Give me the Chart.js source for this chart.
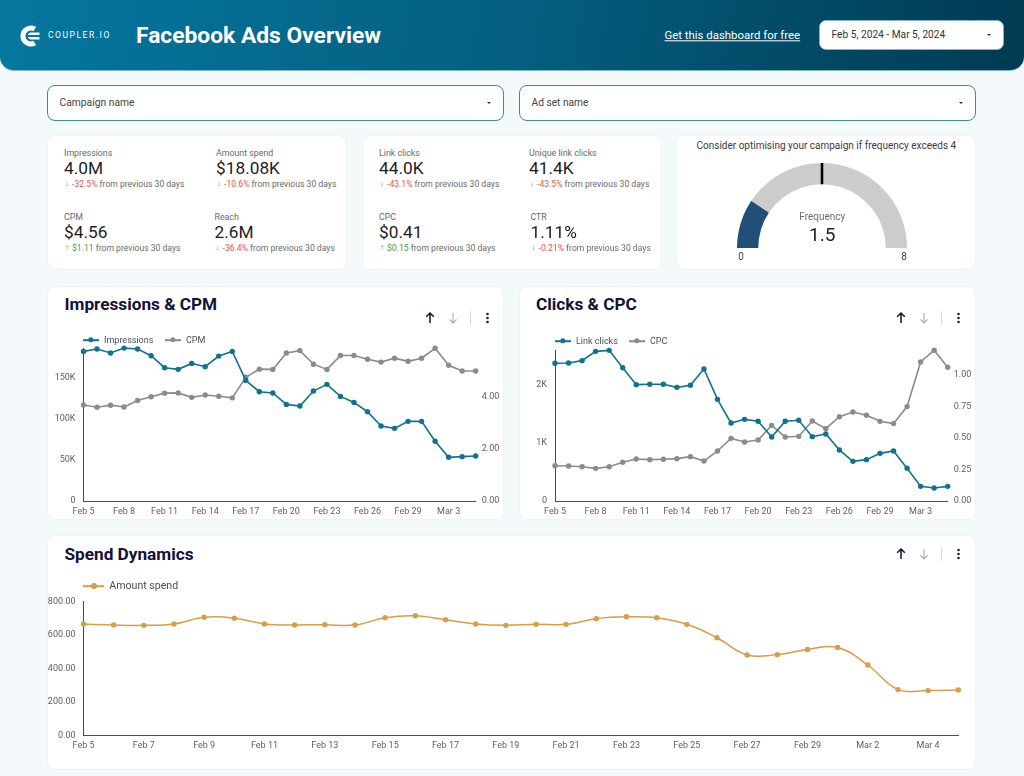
<!DOCTYPE html>
<html>
<head>
<meta charset="utf-8">
<title>Facebook Ads Overview</title>
<script src="https://cdn.jsdelivr.net/npm/chart.js@4"></script>
<style>
  html, body { margin: 0; padding: 0; }
  body { width: 1024px; height: 776px; position: relative; overflow: hidden; background: #f4f9fb; font-family: Roboto, sans-serif; color: #222; }
  .t { position: absolute; transform: translateY(-50%); white-space: nowrap; line-height: 1; }
  .header { position: absolute; left: 0; top: 0; width: 1024px; height: 70.5px; border-radius: 0 0 14px 14px; background: linear-gradient(100deg, #05779f 0%, #045f80 50%, #003a52 100%); border-bottom: 1px solid #7fb6c9; box-sizing: border-box; }
  .caja { position: absolute; background: #fff; box-sizing: border-box; }
  .filtro { border: 1px solid #3f8aa3; border-radius: 8px; height: 36px; top: 84.5px; }
  .tarjeta { border: 1px solid #eef3f6; border-radius: 8px; }
  .flechita { position: absolute; width: 0; height: 0; border-left: 2px solid transparent; border-right: 2px solid transparent; border-top: 2px solid #333; }
  .titulo { font-size: 17.2px; font-weight: 700; color: #12123a; }
  canvas { position: absolute; }
  .ley-linea { position: absolute; height: 1.6px; transform: translateY(-50%); }
  .ley-punto { position: absolute; border-radius: 50%; transform: translate(-50%, -50%); }
  svg { position: absolute; overflow: visible; }
</style>
</head>
<body>
  <div class="header"></div>
  <svg style="left:19px;top:25px" width="22" height="22" viewBox="0 0 22 22">
    <path d="M15.8 4 A8 8 0 1 0 15.8 18" fill="none" stroke="#fff" stroke-width="5"/>
    <path d="M9 9.4 A3.2 3.2 0 0 1 11.5 7.4 H20.5 V9.9 H9 Z M9 12.6 A3.2 3.2 0 0 0 11.5 14.6 H20.5 V12.1 H9 Z" fill="#fff"/>
  </svg>
  <div class="t" style="left:48px;top:35px;font-size:8.5px;letter-spacing:1.55px;color:#fff">COUPLER.IO</div>
  <div class="t" style="left:136px;top:35.5px;font-size:22.8px;font-weight:700;color:#fff">Facebook Ads Overview</div>
  <div class="t" style="left:664.5px;top:35.5px;font-size:11.4px;color:#fff;text-decoration:underline">Get this dashboard for free</div>
  <div class="caja" style="left:819px;top:20px;width:184.5px;height:30px;border-radius:7px;border:1px solid #7fb6c9"></div>
  <div class="t" style="left:831.5px;top:35px;font-size:10.2px;color:#333">Feb 5, 2024 - Mar 5, 2024</div>
  <div class="flechita" style="left:987px;top:34px"></div>

  <div class="caja filtro" style="left:47px;width:457px"></div>
  <div class="t" style="left:59.5px;top:102.6px;font-size:10.3px;color:#444">Campaign name</div>
  <div class="flechita" style="left:487px;top:102px"></div>
  <div class="caja filtro" style="left:518.7px;width:457px"></div>
  <div class="t" style="left:531.5px;top:102.6px;font-size:10.2px;color:#444">Ad set name</div>
  <div class="flechita" style="left:959px;top:102px"></div>

  <div class="caja tarjeta" style="left:47px;top:134.5px;width:300px;height:135.5px"></div>
  <div class="caja tarjeta" style="left:361.5px;top:134.5px;width:300px;height:135.5px"></div>
  <div class="caja tarjeta" style="left:676px;top:134.5px;width:300px;height:135.5px"></div>

  <div class="t" style="left:696.5px;top:145.5px;font-size:10px;color:#3a3a44">Consider optimising your campaign if frequency exceeds 4</div>
  <canvas id="grafico-frecuencia" width="170" height="85" style="left:737.3px;top:163px"></canvas>
  <div class="t" style="left:822.3px;top:216.5px;font-size:10px;color:#6b6b80;transform:translate(-50%,-50%)">Frequency</div>
  <div class="t" style="left:822.3px;top:234px;font-size:19px;color:#222;transform:translate(-50%,-50%)">1.5</div>
  <div class="t" style="left:741px;top:257px;font-size:10px;color:#444;transform:translate(-50%,-50%)">0</div>
  <div class="t" style="left:904px;top:257px;font-size:10px;color:#444;transform:translate(-50%,-50%)">8</div>

  <div class="caja tarjeta" style="left:47px;top:285.5px;width:457px;height:234.5px"></div>
  <div class="caja tarjeta" style="left:519px;top:285.5px;width:457px;height:234.5px"></div>
  <div class="caja tarjeta" style="left:47px;top:535px;width:929px;height:235px"></div>
  <div class="t titulo" style="left:64.5px;top:305px">Impressions &amp; CPM</div>
  <div class="t titulo" style="left:536px;top:305px">Clicks &amp; CPC</div>
  <div class="t titulo" style="left:64.5px;top:555px">Spend Dynamics</div>

  <canvas id="grafico-impresiones" width="457" height="190" style="left:47px;top:330px"></canvas>
  <canvas id="grafico-clicks" width="457" height="190" style="left:519px;top:330px"></canvas>
  <canvas id="grafico-gasto" width="929" height="182" style="left:47px;top:588px"></canvas>

<script>
// Datos
const dias = ['Feb 5','Feb 6','Feb 7','Feb 8','Feb 9','Feb 10','Feb 11','Feb 12','Feb 13','Feb 14','Feb 15','Feb 16','Feb 17','Feb 18','Feb 19','Feb 20','Feb 21','Feb 22','Feb 23','Feb 24','Feb 25','Feb 26','Feb 27','Feb 28','Feb 29','Mar 1','Mar 2','Mar 3','Mar 4','Mar 5'];

const impresiones = [181500,184300,179500,185500,184300,176200,161700,159700,166900,162900,175800,181500,146300,132600,131000,117200,115200,133400,141500,126900,119600,108300,90900,88100,96600,96600,72400,53000,53800,54600];
const cpm = [3.68,3.59,3.67,3.60,3.85,3.99,4.13,4.14,3.97,4.06,4.01,3.95,4.74,5.05,5.04,5.67,5.76,5.24,5.04,5.57,5.57,5.43,5.32,5.47,5.35,5.47,5.85,5.20,4.98,4.98];
const clicks = [2367,2372,2413,2573,2590,2292,2000,2006,2006,1954,1989,2269,1748,1341,1404,1370,1100,1370,1387,1106,1152,877,682,711,819,860,562,252,223,252];
const cpc = [0.28,0.278,0.272,0.259,0.272,0.307,0.333,0.328,0.331,0.336,0.352,0.317,0.397,0.497,0.468,0.484,0.60,0.508,0.513,0.635,0.574,0.669,0.706,0.68,0.632,0.614,0.749,1.103,1.196,1.061];
const gasto = [665,659,657,665,705,700,665,659,661,659,702,714,690,665,657,663,663,697,708,702,663,583,480,482,513,525,420,273,267,271];

const ticksImpresiones = [0,50000,100000,150000];
const ticksCpm = [0,2,4];
const ticksClicks = [0,1000,2000];
const ticksCpc = [0,0.25,0.5,0.75,1];
const ticksGasto = [0,200,400,600,800];

const frecuencia = 1.5;
const frecuenciaMax = 8;
const frecuenciaLimite = 4;

const kpiNombres = ['Impressions','Amount spend','CPM','Reach','Link clicks','Unique link clicks','CPC','CTR'];
const kpiValores = ['4.0M','$18.08K','$4.56','2.6M','44.0K','41.4K','$0.41','1.11%'];
const kpiCambios = ['-32.5%','-10.6%','$1.11','-36.4%','-43.1%','-43.5%','$0.15','-0.21%'];
const kpiSube = [false,false,true,false,false,false,true,false];
const kpiX = [64,216,64,214.5,379,529,379,530.5];
const kpiY = [153,153,217,217,153,153,217,217];

const colorAzul = '#11728f';
const colorGris = '#8b8b8b';
const colorNaranja = '#d99c47';
const colorTick = '#5c5f66';
const colorEje = '#4a4a52';

Chart.defaults.font.family = 'Roboto';
Chart.defaults.font.size = 9;
Chart.defaults.color = colorTick;
Chart.defaults.animation = false;
Chart.defaults.responsive = false;
Chart.defaults.plugins.legend.display = false;
Chart.defaults.plugins.tooltip.enabled = false;

function agregarTexto(x, y, texto, tam, color) {
  const div = document.createElement('div');
  div.className = 't';
  div.style.left = x + 'px';
  div.style.top = y + 'px';
  div.style.fontSize = tam + 'px';
  div.style.color = color;
  div.textContent = texto;
  document.body.appendChild(div);
  return div;
}

// Tarjetas de KPI
kpiNombres.forEach((nombre, i) => {
  const x = kpiX[i], y = kpiY[i];
  agregarTexto(x, y, nombre, 8.8, '#6a6a6a');
  agregarTexto(x, y + 15.5, kpiValores[i], 17.3, '#1d1d1f');
  const color = kpiSube[i] ? '#3f9a4f' : '#e2574f';
  agregarTexto(x + 1, y + 30.5, kpiSube[i] ? '\u2191' : '\u2193', 8, color).style.fontWeight = 900;
  const delta = agregarTexto(x + 8, y + 30.5, '', 8.6, '#6a6a6a');
  const span = document.createElement('span');
  span.style.color = color;
  span.textContent = kpiCambios[i];
  delta.appendChild(span);
  delta.appendChild(document.createTextNode(' from previous 30 days'));
});

// Flechas y menu de cada tarjeta
function agregarIconos(x, y) {
  const svg = document.createElementNS('http://www.w3.org/2000/svg', 'svg');
  svg.setAttribute('width', 70);
  svg.setAttribute('height', 20);
  svg.style.left = x + 'px';
  svg.style.top = (y - 10) + 'px';
  svg.innerHTML =
    '<path d="M5 15V5M1.2 8.8 5 5l3.8 3.8" fill="none" stroke="#12123a" stroke-width="1.5"/>' +
    '<path d="M28 5v10M24.5 11.5 28 15l3.5-3.5" fill="none" stroke="#a9adb3" stroke-width="1.1"/>' +
    '<path d="M45.5 3v14" stroke="#d5d8dc" stroke-width="1"/>' +
    '<circle cx="62.5" cy="6" r="1.3" fill="#222"/><circle cx="62.5" cy="10" r="1.3" fill="#222"/><circle cx="62.5" cy="14" r="1.3" fill="#222"/>';
  document.body.appendChild(svg);
}
agregarIconos(424.5, 318);
agregarIconos(896, 318);
agregarIconos(896, 554);

// Leyenda en HTML a partir de los datasets del grafico
function agregarLeyenda(chart, posiciones, y, tam, largo, radio) {
  chart.data.datasets.forEach((ds, i) => {
    const x = posiciones[i];
    const linea = document.createElement('div');
    linea.className = 'ley-linea';
    linea.style.cssText = `left:${x}px;top:${y}px;width:${largo}px;background:${ds.borderColor}`;
    const punto = document.createElement('div');
    punto.className = 'ley-punto';
    punto.style.cssText = `left:${x + largo / 2}px;top:${y}px;width:${radio * 2}px;height:${radio * 2}px;background:${ds.borderColor}`;
    document.body.appendChild(linea);
    document.body.appendChild(punto);
    agregarTexto(x + largo + 5, y, ds.label, tam, '#4d4d5c');
  });
}

function ejeX(paso, alto) {
  return {
    grid: { display: false, drawTicks: false },
    border: { display: true, color: colorEje, width: 1 },
    afterFit: escala => { escala.height = alto; },
    ticks: {
      autoSkip: false,
      maxRotation: 0,
      padding: 5.5,
      callback: (valor, i) => (i % paso === 0 ? dias[i] : '')
    }
  };
}

function ejeY(posicion, ancho, max, marcas, formato, conBorde) {
  return {
    position: posicion,
    min: 0,
    max: max,
    grid: { display: false, drawTicks: false },
    border: { display: conBorde, color: colorEje, width: 1 },
    afterFit: escala => { escala.width = ancho; },
    afterBuildTicks: escala => { escala.ticks = marcas.map(v => ({ value: v })); },
    ticks: { padding: posicion === 'left' ? 8 : 6, callback: formato }
  };
}

function formatoMiles(v) {
  return v === 0 ? '0' : (v / 1000) + 'K';
}

function serie(nombre, valores, color, eje) {
  return {
    label: nombre,
    data: valores,
    yAxisID: eje,
    borderColor: color,
    backgroundColor: color,
    borderWidth: 1.6,
    pointRadius: 2.7,
    pointBorderWidth: 0,
    tension: 0,
    clip: false
  };
}

function graficarDoble(id, primera, segunda, izq, der, arriba) {
  const ctx = document.getElementById(id).getContext('2d');
  return new Chart(ctx, {
    type: 'line',
    data: { labels: dias, datasets: [primera, segunda] },
    options: {
      layout: { padding: { top: arriba } },
      scales: { x: ejeX(3, 19), y: izq, y2: der }
    }
  });
}

const chartImpresiones = graficarDoble(
  'grafico-impresiones',
  serie('Impressions', impresiones, colorAzul, 'y'),
  serie('CPM', cpm, colorGris, 'y2'),
  ejeY('left', 36.5, 185600, ticksImpresiones, formatoMiles, true),
  ejeY('right', 28.3, 5.86, ticksCpm, v => v.toFixed(2), false),
  18
);
agregarLeyenda(chartImpresiones, [83, 165], 340, 9, 16, 2.7);

const chartClicks = graficarDoble(
  'grafico-clicks',
  serie('Link clicks', clicks, colorAzul, 'y'),
  serie('CPC', cpc, colorGris, 'y2'),
  ejeY('left', 36, 2596, ticksClicks, formatoMiles, true),
  ejeY('right', 28.3, 1.198, ticksCpc, v => v.toFixed(2), false),
  20
);
agregarLeyenda(chartClicks, [555, 629], 341, 9, 16, 2.7);

// Gasto, linea suavizada con un solo eje
const chartGasto = new Chart(document.getElementById('grafico-gasto').getContext('2d'), {
  type: 'line',
  data: {
    labels: dias,
    datasets: [Object.assign(serie('Amount spend', gasto, colorNaranja, 'y'), { tension: 0.4, borderWidth: 1.5 })]
  },
  options: {
    layout: { padding: { top: 13.3, right: 17.7 } },
    scales: {
      x: ejeX(2, 34.7),
      y: ejeY('left', 36.5, 800, ticksGasto, v => v.toFixed(2), true)
    }
  }
});
agregarLeyenda(chartGasto, [83.3], 586, 10.6, 21, 3);

// Marca negra del limite sobre el medidor
const marcaLimite = {
  id: 'marcaLimite',
  afterDatasetsDraw(chart) {
    const arco = chart.getDatasetMeta(0).data[0];
    const angulo = Math.PI + Math.PI * frecuenciaLimite / frecuenciaMax;
    const c = chart.ctx;
    c.save();
    c.strokeStyle = '#000';
    c.lineWidth = 2.6;
    c.beginPath();
    c.moveTo(arco.x + Math.cos(angulo) * arco.innerRadius, arco.y + Math.sin(angulo) * arco.innerRadius);
    c.lineTo(arco.x + Math.cos(angulo) * arco.outerRadius, arco.y + Math.sin(angulo) * arco.outerRadius);
    c.stroke();
    c.restore();
  }
};

new Chart(document.getElementById('grafico-frecuencia').getContext('2d'), {
  type: 'doughnut',
  data: {
    datasets: [{
      data: [frecuencia, frecuenciaMax - frecuencia],
      backgroundColor: ['#214f78', '#cccccc'],
      borderWidth: 0
    }]
  },
  options: { rotation: -90, circumference: 180, cutout: '75%' },
  plugins: [marcaLimite]
});
</script>
</body>
</html>
